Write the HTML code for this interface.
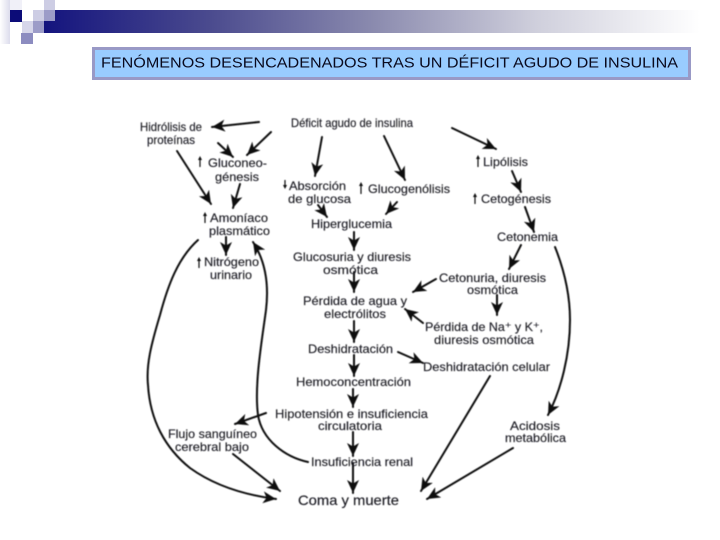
<!DOCTYPE html>
<html lang="es">
<head>
<meta charset="utf-8">
<title>Fenómenos desencadenados tras un déficit agudo de insulina</title>
<style>
html,body{margin:0;padding:0;background:#fff;}
body{width:720px;height:540px;overflow:hidden;position:relative;}
svg{position:absolute;left:0;top:0;}
.t{font-family:"Liberation Sans",sans-serif;font-size:12px;fill:#1c1c24;stroke:#1c1c24;stroke-width:.15;}
.k path,.k line{stroke:#111;fill:none;stroke-width:2;stroke-linecap:round;}
</style>
</head>
<body>
<svg width="720" height="540" viewBox="0 0 720 540" xmlns="http://www.w3.org/2000/svg">
<defs>
<linearGradient id="band" x1="0" x2="1" y1="0" y2="0">
<stop offset="0" stop-color="#14147e"/>
<stop offset=".25" stop-color="#4a4a8e"/>
<stop offset=".5" stop-color="#8a8aae"/>
<stop offset=".75" stop-color="#cfcfdc"/>
<stop offset="1" stop-color="#ffffff"/>
</linearGradient>
<linearGradient id="fade" x1="0" x2="1" y1="0" y2="0">
<stop offset="0" stop-color="#ffffff"/>
<stop offset="1" stop-color="#dcdcec"/>
</linearGradient>
<marker id="a" markerUnits="userSpaceOnUse" markerWidth="16" markerHeight="14" refX="13" refY="6" orient="auto">
<path d="M0 0L13 6L0 12L3.500 6Z" fill="#111"/>
</marker>
<filter id="b" x="-5%" y="-5%" width="110%" height="110%"><feGaussianBlur stdDeviation="0.4"/></filter>
</defs>

<rect width="720" height="540" fill="#fff"/>
<rect x="44" y="10" width="656" height="23" fill="url(#band)"/>
<rect x="0" y="0" width="10" height="44" fill="url(#fade)"/>
<rect x="10" y="10" width="12" height="12" fill="#0c0c78"/>
<rect x="10" y="0" width="12" height="10" fill="#f0f0f8"/>
<rect x="33" y="10" width="11" height="11" fill="#cdcde4"/>
<rect x="44" y="10" width="11" height="11" fill="#9c9cc8"/>
<rect x="44" y="0" width="11" height="10" fill="#cdcde4"/>
<rect x="22" y="21" width="11" height="12" fill="#d6d6ea"/>
<rect x="33" y="21" width="11" height="12" fill="#9c9cc8"/>
<rect x="21" y="33" width="12" height="11" fill="#8c8cc0"/>

<rect x="93.500" y="48.500" width="596" height="30" fill="#99ccff" stroke="#9999c6" stroke-width="3"/>
<text x="101" y="67.500" font-family="'Liberation Sans',sans-serif" font-size="15" fill="#0a0a1e" textLength="577" lengthAdjust="spacingAndGlyphs">FENÓMENOS DESENCADENADOS TRAS UN DÉFICIT AGUDO DE INSULINA</text>

<g filter="url(#b)">
<g class="k">
<line x1="259" y1="122" x2="212" y2="127" marker-end="url(#a)"/>
<line x1="271" y1="132" x2="247" y2="155" marker-end="url(#a)"/>
<line x1="218" y1="143" x2="233" y2="157" marker-end="url(#a)"/>
<line x1="177" y1="151" x2="211" y2="204" marker-end="url(#a)"/>
<line x1="240" y1="184" x2="233" y2="208" marker-end="url(#a)"/>
<line x1="226" y1="237" x2="226" y2="255" marker-end="url(#a)"/>
<line x1="322" y1="137" x2="315" y2="176" marker-end="url(#a)"/>
<line x1="318" y1="205" x2="327" y2="217" marker-end="url(#a)"/>
<line x1="384" y1="136" x2="405" y2="180" marker-end="url(#a)"/>
<line x1="452" y1="128" x2="496" y2="149" marker-end="url(#a)"/>
<line x1="512" y1="171" x2="521" y2="192" marker-end="url(#a)"/>
<line x1="525" y1="207" x2="534" y2="232" marker-end="url(#a)"/>
<line x1="397" y1="202" x2="386" y2="214" marker-end="url(#a)"/>
<line x1="354" y1="232" x2="354" y2="250" marker-end="url(#a)"/>
<line x1="354" y1="272" x2="354" y2="292" marker-end="url(#a)"/>
<line x1="521" y1="245" x2="509" y2="269" marker-end="url(#a)"/>
<line x1="436" y1="279" x2="413" y2="292" marker-end="url(#a)"/>
<line x1="497" y1="295" x2="497" y2="315" marker-end="url(#a)"/>
<line x1="423" y1="323" x2="405" y2="309" marker-end="url(#a)"/>
<line x1="354" y1="321" x2="354" y2="342" marker-end="url(#a)"/>
<line x1="354" y1="355" x2="354" y2="376" marker-end="url(#a)"/>
<line x1="353" y1="389" x2="353" y2="407" marker-end="url(#a)"/>
<line x1="353" y1="432" x2="353" y2="456" marker-end="url(#a)"/>
<line x1="353" y1="463" x2="353" y2="493" marker-end="url(#a)"/>
<line x1="398" y1="352" x2="423" y2="363" marker-end="url(#a)"/>
<line x1="490" y1="376" x2="421" y2="491" marker-end="url(#a)"/>
<line x1="513" y1="448" x2="427" y2="499" marker-end="url(#a)"/>
<line x1="266" y1="413" x2="235" y2="424" marker-end="url(#a)"/>
<line x1="233" y1="454" x2="280" y2="491" marker-end="url(#a)"/>
<path d="M198 240C178 258 168 285 160 315C151 345 146 365 148 385C150 420 165 448 190 468C215 486 245 495 276 499" marker-end="url(#a)"/>
<path d="M308 462C285 457 262 440 258 415C254 385 262 340 266 310C269 285 266 262 253 242" marker-end="url(#a)"/>
<path d="M555 247C565 272 570 295 570 320C570 355 561 390 548 415" marker-end="url(#a)"/>
</g>

<g fill="#111">
<path d="M200 156l-2 4h1.400v7h1.200v-7h1.400z"/>
<path d="M205 212l-2 4h1.400v7h1.200v-7h1.400z"/>
<path d="M199 257l-2 4h1.400v7h1.200v-7h1.400z"/>
<path d="M285 189l-2-4h1.400v-5h1.200v5h1.400z"/>
<path d="M361 182l-2 4h1.400v8h1.200v-8h1.400z"/>
<path d="M478 155l-2 4h1.400v8h1.200v-8h1.400z"/>
<path d="M475 193l-2 4h1.400v7h1.200v-7h1.400z"/>
</g>

<text class="t" x="140" y="131" textLength="62" lengthAdjust="spacingAndGlyphs">Hidrólisis de</text>
<text class="t" x="147" y="144" textLength="48" lengthAdjust="spacingAndGlyphs">proteínas</text>
<text class="t" x="291" y="127" textLength="122" lengthAdjust="spacingAndGlyphs">Déficit agudo de insulina</text>
<text class="t" x="208" y="167" textLength="59" lengthAdjust="spacingAndGlyphs">Gluconeo-</text>
<text class="t" x="215" y="181" textLength="44" lengthAdjust="spacingAndGlyphs">génesis</text>
<text class="t" x="289" y="190" textLength="57" lengthAdjust="spacingAndGlyphs">Absorción</text>
<text class="t" x="288" y="203" textLength="63" lengthAdjust="spacingAndGlyphs">de glucosa</text>
<text class="t" x="368" y="193" textLength="82" lengthAdjust="spacingAndGlyphs">Glucogenólisis</text>
<text class="t" x="483" y="166" textLength="45" lengthAdjust="spacingAndGlyphs">Lipólisis</text>
<text class="t" x="481" y="203" textLength="70" lengthAdjust="spacingAndGlyphs">Cetogénesis</text>
<text class="t" x="497" y="241" textLength="61" lengthAdjust="spacingAndGlyphs">Cetonemia</text>
<text class="t" x="210" y="222" textLength="58" lengthAdjust="spacingAndGlyphs">Amoníaco</text>
<text class="t" x="209" y="235" textLength="61" lengthAdjust="spacingAndGlyphs">plasmático</text>
<text class="t" x="311" y="228" textLength="81" lengthAdjust="spacingAndGlyphs">Hiperglucemia</text>
<text class="t" x="293" y="261" textLength="118" lengthAdjust="spacingAndGlyphs">Glucosuria y diuresis</text>
<text class="t" x="323" y="274" textLength="55" lengthAdjust="spacingAndGlyphs">osmótica</text>
<text class="t" x="204" y="266" textLength="55" lengthAdjust="spacingAndGlyphs">Nitrógeno</text>
<text class="t" x="210" y="279" textLength="42" lengthAdjust="spacingAndGlyphs">urinario</text>
<text class="t" x="439" y="282" textLength="107" lengthAdjust="spacingAndGlyphs">Cetonuria, diuresis</text>
<text class="t" x="467" y="294" textLength="51" lengthAdjust="spacingAndGlyphs">osmótica</text>
<text class="t" x="303" y="305" textLength="104" lengthAdjust="spacingAndGlyphs">Pérdida de agua y</text>
<text class="t" x="324" y="318" textLength="62" lengthAdjust="spacingAndGlyphs">electrólitos</text>
<text class="t" x="425" y="331" textLength="118" lengthAdjust="spacingAndGlyphs">Pérdida de Na⁺ y K⁺,</text>
<text class="t" x="434" y="344" textLength="100" lengthAdjust="spacingAndGlyphs">diuresis osmótica</text>
<text class="t" x="308" y="353" textLength="85" lengthAdjust="spacingAndGlyphs">Deshidratación</text>
<text class="t" x="423" y="371" textLength="127" lengthAdjust="spacingAndGlyphs">Deshidratación celular</text>
<text class="t" x="296" y="386" textLength="115" lengthAdjust="spacingAndGlyphs">Hemoconcentración</text>
<text class="t" x="275" y="418" textLength="153" lengthAdjust="spacingAndGlyphs">Hipotensión e insuficiencia</text>
<text class="t" x="318" y="430" textLength="64" lengthAdjust="spacingAndGlyphs">circulatoria</text>
<text class="t" x="168" y="438" textLength="89" lengthAdjust="spacingAndGlyphs">Flujo sanguíneo</text>
<text class="t" x="175" y="451" textLength="74" lengthAdjust="spacingAndGlyphs">cerebral bajo</text>
<text class="t" x="311" y="466" textLength="102" lengthAdjust="spacingAndGlyphs">Insuficiencia renal</text>
<text class="t" x="298" y="505" textLength="101" lengthAdjust="spacingAndGlyphs" style="font-size:14px">Coma y muerte</text>
<text class="t" x="510" y="430" textLength="50" lengthAdjust="spacingAndGlyphs">Acidosis</text>
<text class="t" x="505" y="442" textLength="61" lengthAdjust="spacingAndGlyphs">metabólica</text>
</g>
</svg>
</body>
</html>
